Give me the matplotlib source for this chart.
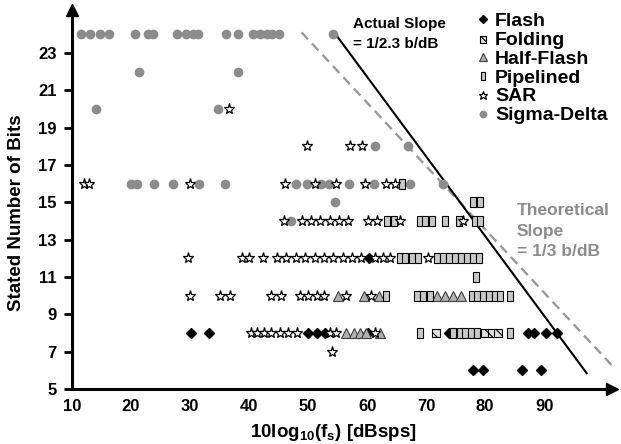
import matplotlib
matplotlib.use('Agg')
import matplotlib.pyplot as plt

plt.rcParams['font.family'] = ['Liberation Sans', 'DejaVu Sans']
plt.rcParams['font.weight'] = 'bold'
plt.rcParams['mathtext.fontset'] = 'custom'
plt.rcParams['mathtext.bf'] = 'Liberation Sans:bold'
plt.rcParams['mathtext.rm'] = 'Liberation Sans:bold'
plt.rcParams['mathtext.default'] = 'bf'
plt.rcParams['hatch.linewidth'] = 0.8

# ADC architectures: sample rate (dBsps) vs stated bits
flash_x = [30.2, 33.2, 50.0, 51.5, 52.9, 60.2, 73.8, 87.2, 88.2, 90.3, 92.2,
           60.4,
           78.0, 79.7, 86.2, 89.4]
flash_y = [8, 8, 8, 8, 8, 8, 8, 8, 8, 8, 8,
           12,
           6, 6, 6, 6]

folding_x = [71.7, 80.0, 81.1, 82.2]
folding_y = [8, 8, 8, 8]

halfflash_x = [55.0, 59.4, 62.1, 71.9, 73.2, 74.6, 75.9,
               56.4, 57.7, 58.8, 59.9, 62.2]
halfflash_y = [10, 10, 10, 10, 10, 10, 10,
               8, 8, 8, 8, 8]

pipelined_x = [66.0,
               78.0, 79.2,
               63.3, 64.5, 68.9, 69.8, 71.0, 73.2, 75.5, 78.3, 79.2,
               65.5, 66.4, 67.6, 68.7, 71.9, 72.9, 73.9, 74.9, 75.9, 76.9, 77.9, 78.9,
               78.5,
               63.2, 68.4, 69.5, 70.7, 77.7, 78.7, 79.7, 80.7, 81.6, 82.5, 84.2,
               69.0, 74.6, 75.7, 76.6, 77.6, 78.7, 84.2]
pipelined_y = [16,
               15, 15,
               14, 14, 14, 14, 14, 14, 14, 14, 14,
               12, 12, 12, 12, 12, 12, 12, 12, 12, 12, 12, 12,
               11,
               10, 10, 10, 10, 10, 10, 10, 10, 10, 10, 10,
               8, 8, 8, 8, 8, 8, 8]

sar_x = [36.6,
         49.8, 57.1, 59.1,
         12.0, 12.9, 30.0, 46.1, 51.2, 54.7, 59.7, 63.2, 64.7,
         46.0, 48.9, 50.5, 52.0, 53.7, 55.3, 56.8, 60.1, 61.6, 65.6, 76.3,
         29.7, 38.8, 40.0, 42.4, 44.7, 46.3, 47.9, 49.5, 51.2, 52.7, 54.3, 55.9,
         57.4, 59.0, 61.4, 62.7, 63.9, 70.4,
         30.0, 35.1, 36.8, 43.8, 45.4, 48.6, 50.0, 51.5, 52.7, 56.4, 60.6,
         40.3, 41.4, 42.5, 43.7, 45.3, 46.6, 48.1, 53.7, 54.7, 61.4,
         54.0]
sar_y = [20,
         18, 18, 18,
         16, 16, 16, 16, 16, 16, 16, 16, 16,
         14, 14, 14, 14, 14, 14, 14, 14, 14, 14, 14,
         12, 12, 12, 12, 12, 12, 12, 12, 12, 12, 12, 12,
         12, 12, 12, 12, 12, 12,
         10, 10, 10, 10, 10, 10, 10, 10, 10, 10, 10,
         8, 8, 8, 8, 8, 8, 8, 8, 8, 8,
         7]

sigma_x = [11.5, 13.1, 14.7, 16.3, 20.7, 22.9, 23.7, 27.8, 29.3, 30.5, 31.4,
           36.1, 38.1, 40.7, 41.9, 43.0, 43.9, 45.0, 54.2,
           21.4, 38.1,
           14.0, 34.7,
           61.4, 66.9,
           20.0, 21.0, 23.9, 27.1, 31.6, 35.9, 47.9, 49.8, 52.2, 53.6, 56.9,
           61.1, 67.3, 72.9,
           54.5,
           47.1]
sigma_y = [24, 24, 24, 24, 24, 24, 24, 24, 24, 24, 24,
           24, 24, 24, 24, 24, 24, 24, 24,
           22, 22,
           20, 20,
           18, 18,
           16, 16, 16, 16, 16, 16, 16, 16, 16, 16, 16,
           16, 16, 16,
           15,
           14]

# slope lines
actual_x = [54.9, 97.2]
actual_y = [23.9, 5.85]
theory_x = [48.9, 101.5]
theory_y = [24.1, 6.26]

fig = plt.figure(figsize=(6.21, 4.44), dpi=100)
ax = fig.add_axes([72 / 621, 55 / 444, 540 / 621, 379 / 444])

ax.plot(theory_x, theory_y, color='#999999', lw=1.7, dashes=(4, 2.5), zorder=1)
ax.plot(actual_x, actual_y, color='black', lw=1.5, zorder=1)

rect = [(-0.55, -1), (0.55, -1), (0.55, 1), (-0.55, 1), (-0.55, -1)]
ax.plot(flash_x, flash_y, 'D', ms=5.5, color='black', ls='none', label='Flash', zorder=3)
ax.scatter(folding_x, folding_y, marker='s', s=32, facecolor='#e0e0e0',
           edgecolor='black', linewidth=0.8, hatch='\\\\\\', label='Folding', zorder=3)
ax.plot(halfflash_x, halfflash_y, '^', ms=7, mfc='#b0b0b0', mec='#404040', mew=0.8,
        ls='none', label='Half-Flash', zorder=3)
ax.plot(pipelined_x, pipelined_y, marker=rect, ms=7, mfc='#c8c8c8', mec='black', mew=0.8,
        ls='none', label='Pipelined', zorder=3)
ax.plot(sar_x, sar_y, '*', ms=8, mfc='white', mec='black', mew=0.9,
        ls='none', label='SAR', zorder=3)
ax.plot(sigma_x, sigma_y, 'o', ms=7, color='#8c8c8c', mec='none',
        ls='none', label='Sigma-Delta', zorder=2)

ax.set_xlim(10, 101.5)
ax.set_ylim(5, 25.3)
ax.set_xticks(range(10, 100, 10))
ax.set_yticks(range(5, 25, 2))
ax.tick_params(axis='x', length=0, pad=7, labelsize=12)
ax.tick_params(axis='y', direction='out', length=6, width=2, pad=5, labelsize=12)

for s in ['top', 'right']:
    ax.spines[s].set_visible(False)
for s in ['left', 'bottom']:
    ax.spines[s].set_linewidth(2.2)

# axis arrows
ax.plot(1, 0, '>', ms=8, color='black', transform=ax.transAxes, clip_on=False)
ax.plot(0, 1, '^', ms=8, color='black', transform=ax.transAxes, clip_on=False)

ax.set_xlabel(r'10log$_{10}$(f$_s$) [dBsps]', fontsize=13.5, fontweight='bold')
ax.set_ylabel('Stated Number of Bits', fontsize=13.5, fontweight='bold')
ax.xaxis.set_label_coords(0.485, -0.088)
ax.yaxis.set_label_coords(-0.087, 0.464)

fig.text(353 / 621, 1 - 24 / 444, 'Actual Slope', fontsize=11, fontweight='bold',
         va='center', ha='left')
fig.text(353 / 621, 1 - 44 / 444, '= 1/2.3 b/dB', fontsize=11, fontweight='bold',
         va='center', ha='left')
fig.text(517 / 621, 1 - 231 / 444, 'Theoretical\nSlope\n= 1/3 b/dB', fontsize=12.5,
         fontweight='bold', color='#8c8c8c', va='center', ha='left', linespacing=1.45)

leg = ax.legend(loc='upper left', bbox_to_anchor=(475 / 621, 1 - 12 / 444),
                bbox_transform=fig.transFigure, frameon=False, fontsize=14,
                handlelength=0.8, handletextpad=0.23, labelspacing=0.07,
                borderpad=0, borderaxespad=0, markerscale=0.8)

plt.savefig('out.png', dpi=100)
